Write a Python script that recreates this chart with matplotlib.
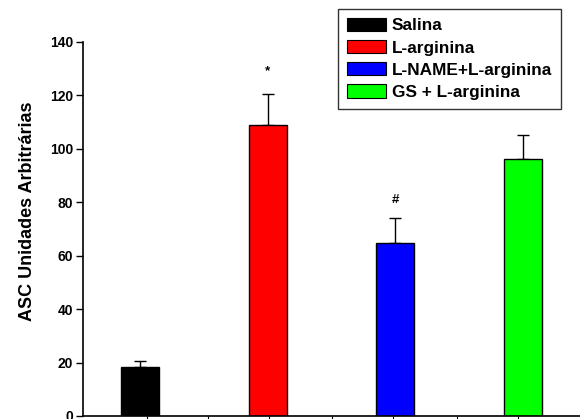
import numpy as np
import matplotlib
matplotlib.use("Agg")
import matplotlib.pyplot as plt

# values
groups = ["Salina", "L-arginina", "L-NAME+L-arginina", "GS + L-arginina"]
means = [18.5, 109.0, 64.7, 96.3]
errors = [2.1, 11.5, 9.4, 8.7]
colors = ["#000000", "#ff0000", "#0000ff", "#00ff00"]
marks = ["", "*", "#", ""]
mark_y = [None, 129, 80.7, None]

plt.rcParams['font.family'] = ['Liberation Sans', 'DejaVu Sans']
plt.rcParams['font.weight'] = 'bold'

fig = plt.figure(figsize=(5.8, 4.19), dpi=100)
ax = fig.add_axes([0.143, 0.0072, 0.87, 0.8926])

x = np.arange(1, len(means) + 1)
ax.bar(x, means, width=0.30, color=colors, edgecolor="black", linewidth=1.0, zorder=2)
ax.errorbar(x, means, yerr=[np.zeros(len(errors)), errors], fmt="none",
            ecolor="black", elinewidth=1.0, capsize=4, capthick=1.0, zorder=1)

for xi, m, my in zip(x, marks, mark_y):
    if m:
        ax.text(xi, my, m, ha="center", va="center", fontsize=9.5, fontweight="bold")

ax.set_ylim(0, 140)
ax.set_xlim(0.552, 4.506)
ax.set_yticks(np.arange(0, 141, 20))
ax.set_xticks([1.055, 1.534, 2.013, 2.5, 2.98, 3.48, 3.96])
ax.set_xticklabels([])
ax.tick_params(axis="y", direction="out", length=5, width=1, labelsize=10, pad=2)
ax.tick_params(axis="x", direction="out", length=2.5, width=0.8)
for lbl in ax.get_yticklabels():
    lbl.set_fontweight("bold")
ax.spines["top"].set_visible(False)
ax.spines["right"].set_visible(False)
ax.spines["left"].set_linewidth(1.2)
ax.spines["bottom"].set_linewidth(1.2)
ax.set_ylabel("ASC Unidades Arbitrárias", fontsize=13, fontweight="bold")
ax.yaxis.set_label_coords(-0.093, 0.548)

handles = [plt.Rectangle((0, 0), 1, 1, facecolor=c, edgecolor="black", linewidth=0.8)
           for c in colors]
leg = fig.legend(handles, groups, loc="upper left",
                 bbox_to_anchor=(338 / 580, 1 - 9 / 419), bbox_transform=fig.transFigure,
                 borderaxespad=0, fancybox=False, frameon=True, edgecolor="black",
                 prop={"size": 12.4, "weight": "bold"}, handlelength=2.27, handleheight=0.82,
                 handletextpad=0.35, labelspacing=0.38, borderpad=0.5)
leg.get_frame().set_linewidth(1.0)

fig.savefig("out.png", dpi=100)
